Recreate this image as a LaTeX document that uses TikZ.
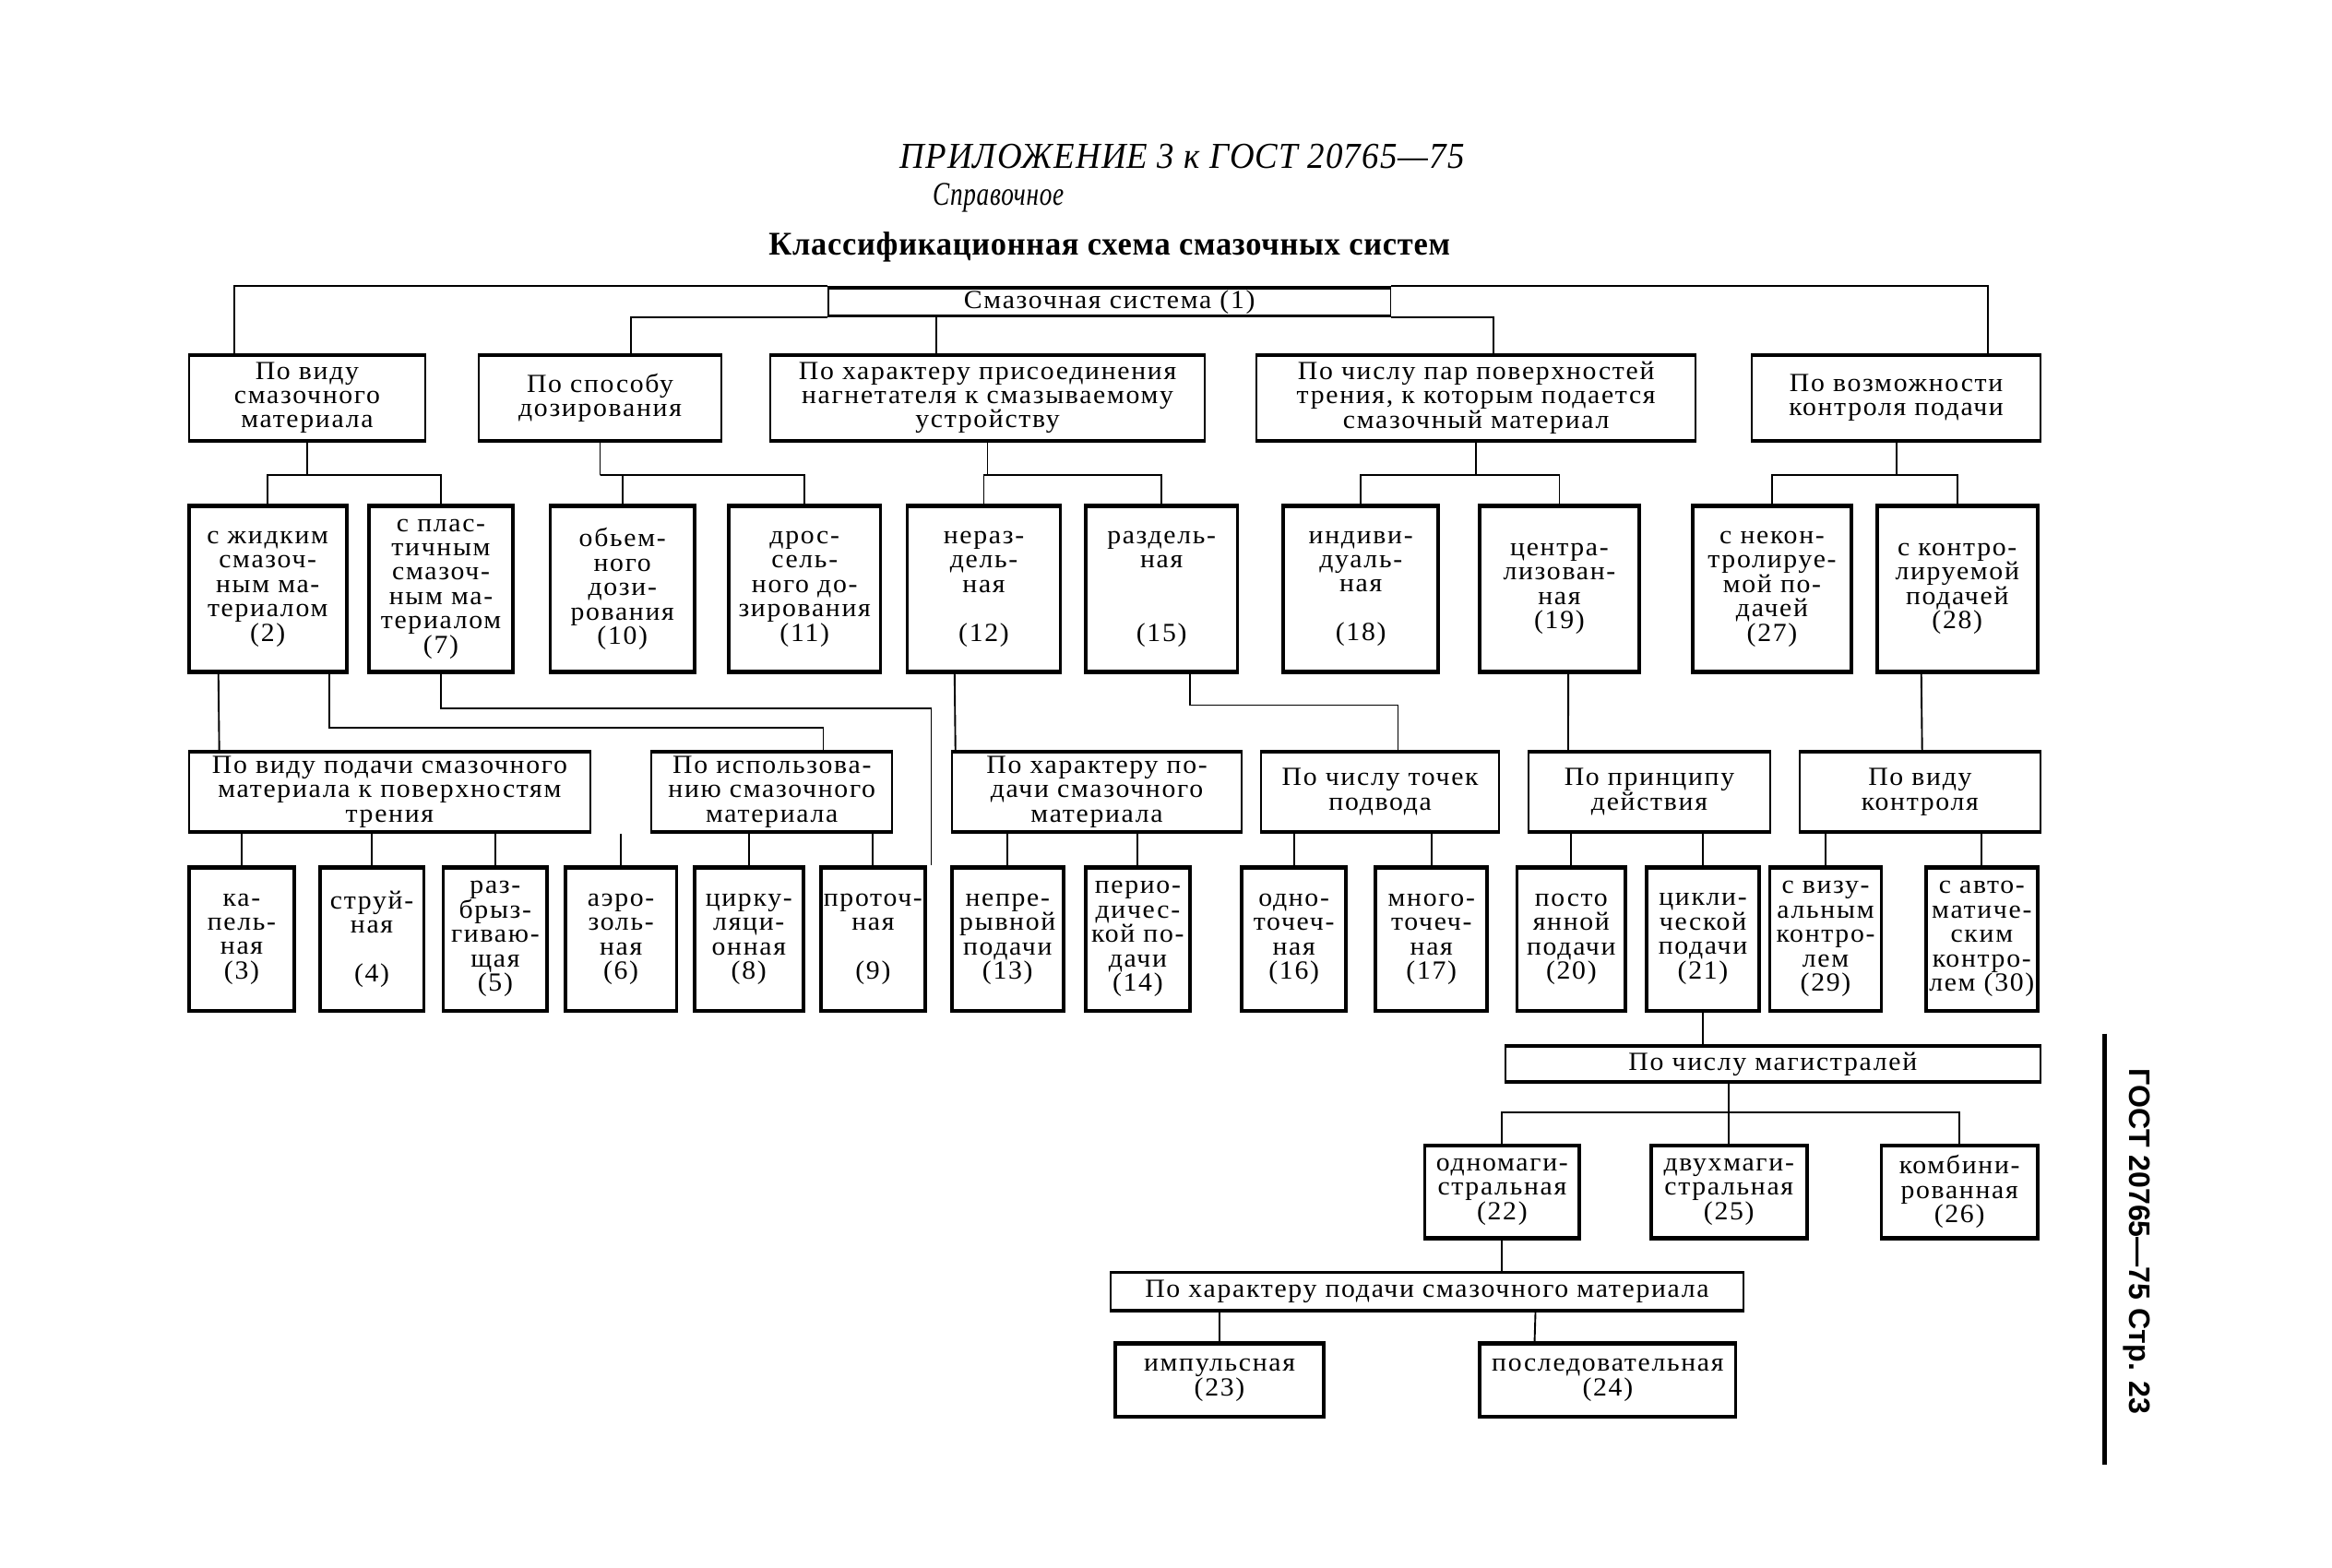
\documentclass[tikz,border=0pt]{standalone}
\usepackage{fontspec}
\setmainfont{Liberation Serif}[FakeStretch=1.05, LetterSpace=6]
\newfontfamily\gostfont{Liberation Sans}
\usetikzlibrary{calc}

\newcommand{\pxu}{0.3mm}
\newcommand{\bxfont}{\fontsize{15}{14}\selectfont}

\begin{document}
\begin{tikzpicture}[
    x=0.3mm, y=-0.3mm,
    font=\bxfont,
    sz/.style 2 args={minimum width=#1*\pxu, minimum height=#2*\pxu},
    hd/.style={draw, line width=1pt, inner sep=0pt, align=center,
               path picture={\draw[line width=3pt]
                 (path picture bounding box.north west) -- (path picture bounding box.north east)
                 (path picture bounding box.south west) -- (path picture bounding box.south east);}},
    lf/.style={hd, line width=2pt},
    ln/.style={line width=1pt},
]
\useasboundingbox (0,0) rectangle (1568,1054);

% === Title ===
\node[font=\fontsize{21}{23}\selectfont\itshape\addfontfeatures{FakeStretch=0.93, LetterSpace=3}]
     (app) at (795,105) {ПРИЛОЖЕНИЕ 3 к ГОСТ 20765—75};
\node[font=\fontsize{19}{21}\selectfont\itshape\addfontfeatures{FakeStretch=0.76, LetterSpace=2},
      anchor=west] (spr) at (623,133) {Справочное};
\node[font=\fontsize{19}{21}\selectfont\bfseries\addfontfeatures{FakeStretch=0.96, LetterSpace=2}]
     (ttl) at (746,166) {Классификационная схема смазочных систем};

% === Root ===
\node[hd, sz={378}{20}] (root) at (746,203) {Смазочная система (1)};

% === Row 1: criteria ===
\node[hd, sz={159}{59}] (vid) at (206.5,267.5) {По виду\\смазочного\\материала};
\node[hd, sz={163}{59}] (dos) at (403.5,267.5) {По способу\\дозирования};
\node[hd, sz={292}{59}] (pris) at (664,267.5)
     {По характеру присоединения\\нагнетателя к смазываемому\\устройству};
\node[hd, sz={295}{59}] (par) at (992.5,267.5)
     {По числу пар поверхностей\\трения, к которым подается\\смазочный материал};
\node[hd, sz={194}{59}] (kon) at (1275,267.5) {По возможности\\контроля подачи};

% root -> row 1
\draw[ln] (root.north west) -| ($(vid.north west)+(31,0)$);
\draw[ln] (root.south west) -| ($(dos.north west)+(103,0)$);
\draw[ln] ($(root.south west)+(73,0)$) -- ($(pris.north west)+(112,0)$);
\draw[ln] (root.south east) -| ($(par.north west)+(160,0)$);
\draw[ln] (root.north east) -| ($(kon.north west)+(159,0)$);

% === Row 2: kinds ===
\node[lf, sz={106}{112}] (n2) at (180,396)
     {с жидким\\смазоч-\\ным ма-\\териалом\\(2)};
\node[lf, sz={97}{112}] (n7) at (296.5,396)
     {с плас-\\тичным\\смазоч-\\ным ма-\\териалом\\(7)};
\node[lf, sz={97}{112}] (n10) at (418.5,396) {обьем-\\ного\\дози-\\рования\\(10)};
\node[lf, sz={102}{112}] (n11) at (541,396) {дрос-\\сель-\\ного до-\\зирования\\(11)};
\node[lf, sz={103}{112}] (n12) at (661.5,396) {нераз-\\дель-\\ная\\[14pt](12)};
\node[lf, sz={102}{112}] (n15) at (781,396) {раздель-\\ная\\[28pt](15)};
\node[lf, sz={104}{112}] (n18) at (915,396) {индиви-\\дуаль-\\ная\\[14pt](18)};
\node[lf, sz={107}{112}] (n19) at (1048.5,396) {центра-\\лизован-\\ная\\(19)};
\node[lf, sz={107}{112}] (n27) at (1191.5,396)
     {с некон-\\тролируе-\\мой по-\\дачей\\(27)};
\node[lf, sz={108}{112}] (n28) at (1316,396) {с контро-\\лируемой\\подачей\\(28)};

% row 1 -> row 2
\draw[ln] (vid.south) -- ++(0,22) coordinate (vb);
\draw[ln] (n2.north) |- (vb) -| (n7.north);
\draw[ln] (dos.south) -- ++(0,22) coordinate (db);
\draw[ln] (n10.north) |- (db) -| (n11.north);
\draw[ln] (pris.south) -- ++(0,22) coordinate (pb);
\draw[ln] (n12.north) |- (pb) -| (n15.north);
\draw[ln] (par.south) -- ++(0,22) coordinate (rb);
\draw[ln] (n18.north) |- (rb) -| (n19.north);
\draw[ln] (kon.south) -- ++(0,22) coordinate (kb);
\draw[ln] (n27.north) |- (kb) -| (n28.north);

% === Row 3: sub-criteria ===
\node[hd, sz={270}{55}] (podv) at (262,532.5)
     {По виду подачи смазочного\\материала к поверхностям\\трения};
\node[hd, sz={162}{55}] (isp) at (519,532.5)
     {По использова-\\нию смазочного\\материала};
\node[hd, sz={195}{55}] (harp) at (737.5,532.5)
     {По характеру по-\\дачи смазочного\\материала};
\node[hd, sz={160}{55}] (tochk) at (928,532.5) {По числу точек\\подвода};
\node[hd, sz={162}{55}] (princ) at (1109,532.5) {По принципу\\действия};
\node[hd, sz={162}{55}] (vidk) at (1291,532.5) {По виду\\контроля};

% === Row 4: leaves ===
\node[lf, sz={71}{97}] (n3) at (162.5,631.5) {ка-\\пель-\\ная\\(3)};
\node[lf, sz={70}{97}] (n4) at (250,631.5) {струй-\\ная\\[14pt](4)};
\node[lf, sz={70}{97}] (n5) at (333,631.5) {раз-\\брыз-\\гиваю-\\щая\\(5)};
\node[lf, sz={75}{97}] (n6) at (417.5,631.5) {аэро-\\золь-\\ная\\(6)};
\node[lf, sz={73}{97}] (n8) at (503.5,631.5) {цирку-\\ляци-\\онная\\(8)};
\node[lf, sz={70}{97}] (n9) at (587,631.5) {проточ-\\ная\\[14pt](9)};
\node[lf, sz={75}{97}] (n13) at (677.5,631.5) {непре-\\рывной\\подачи\\(13)};
\node[lf, sz={70}{97}] (n14) at (765,631.5) {перио-\\дичес-\\кой по-\\дачи\\(14)};
\node[lf, sz={70}{97}] (n16) at (870,631.5) {одно-\\точеч-\\ная\\(16)};
\node[lf, sz={75}{97}] (n17) at (962.5,631.5) {много-\\точеч-\\ная\\(17)};
\node[lf, sz={73}{97}] (n20) at (1056.5,631.5) {посто\\янной\\подачи\\(20)};
\node[lf, sz={76}{97}] (n21) at (1145,631.5) {цикли-\\ческой\\подачи\\(21)};
\node[lf, sz={75}{97}] (n29) at (1227.5,631.5) {с визу-\\альным\\контро-\\лем\\(29)};
\node[lf, sz={75}{97}] (n30) at (1332.5,631.5) {с авто-\\матиче-\\ским\\контро-\\лем (30)};

% row 2 -> row 3 (and n7 -> n9)
\draw[ln] ($(n2.south west)+(21,0)$) -- ($(podv.north west)+(21,0)$);
\draw[ln] ($(n2.south east)+(-13,0)$) -- ++(0,36) -| ($(isp.north east)+(-47,0)$);
\draw[ln] (n7.south) -- ++(0,23) -| ($(n9.north east)+(3,0)$);
\draw[ln] ($(n12.south west)+(33,0)$) -- ($(harp.north west)+(3,0)$);
\draw[ln] ($(n15.south)+(19,0)$) -- ++(0,21) -| ($(tochk.north)+(12,0)$);
\draw[ln] ($(n19.south)+(6,0)$) -- ($(princ.north west)+(27,0)$);
\draw[ln] ($(n28.south west)+(31,0)$) -- ($(vidk.north west)+(83,0)$);

% row 3 -> row 4
\draw[ln] (podv.south -| n3.north) -- (n3.north);
\draw[ln] (podv.south -| n4.north) -- (n4.north);
\draw[ln] (podv.south -| n5.north) -- (n5.north);
\draw[ln] (podv.south -| n6.north) -- (n6.north);
\draw[ln] (isp.south -| n8.north) -- (n8.north);
\draw[ln] (isp.south -| n9.north) -- (n9.north);
\draw[ln] (harp.south -| n13.north) -- (n13.north);
\draw[ln] (harp.south -| n14.north) -- (n14.north);
\draw[ln] (tochk.south -| n16.north) -- (n16.north);
\draw[ln] (tochk.south -| n17.north) -- (n17.north);
\draw[ln] (princ.south -| n20.north) -- (n20.north);
\draw[ln] (princ.south -| n21.north) -- (n21.north);
\draw[ln] (vidk.south -| n29.north) -- (n29.north);
\draw[ln] (vidk.south -| n30.north) -- (n30.north);

% === Mains ===
\node[hd, sz={360}{25}] (mag) at (1192,715.5) {По числу магистралей};
\draw[ln] (n21.south) -- (n21.south |- mag.north);

\node[lf, sz={104}{63}] (n22) at (1010,801.5) {одномаги-\\стральная\\(22)};
\node[lf, sz={105}{63}] (n25) at (1162.5,801.5) {двухмаги-\\стральная\\(25)};
\node[lf, sz={105}{63}] (n26) at (1317.5,801.5) {комбини-\\рованная\\(26)};

\draw[ln] (mag.south -| n25.north) -- (n25.north);
\draw[ln] (n22.north) -- ++(0,-21) -| (n26.north);

% === Feed character ===
\node[hd, sz={425}{27}] (khar) at (959.5,868.5)
     {По характеру подачи смазочного материала};
\draw[ln] (n22.south) -- (n22.south |- khar.north);

\node[lf, sz={140}{50}] (n23) at (820,928) {импульсная\\(23)};
\node[lf, sz={172}{50}] (n24) at (1081,928) {последовательная\\(24)};

\draw[ln] (khar.south -| n23.north) -- (n23.north);
\draw[ln] ($(khar.south west)+(286,0)$) -- ($(n24.north west)+(38,0)$);

% === Page margin ===
\draw[line width=2.4pt] (1415,695) -- (1415,985);
\node[font={\gostfont\fontsize{17}{19}\selectfont\bfseries}, rotate=-90] (pg)
     at (1437,835) {ГОСТ 20765—75 Стр. 23};

\end{tikzpicture}
\end{document}
